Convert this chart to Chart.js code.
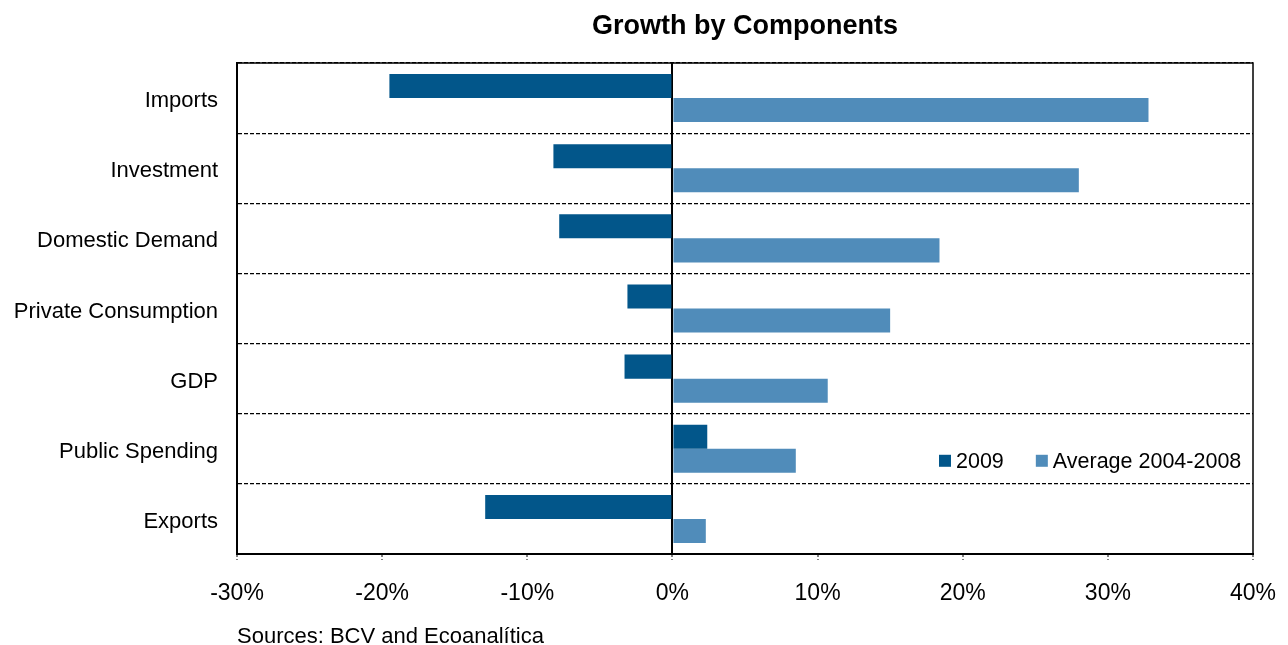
<!DOCTYPE html>
<html>
<head>
<meta charset="utf-8">
<title>Growth by Components</title>
<script src="https://cdn.jsdelivr.net/npm/chart.js@4.4.1/dist/chart.umd.min.js"></script>
<style>
  html, body { margin: 0; padding: 0; background: #fff; overflow: hidden; }
  #wrap { width: 1288px; height: 645px; position: relative; }
</style>
</head>
<body>
<div id="wrap"><canvas id="chart"></canvas></div>
<script>
// components, top to bottom
const components = ['Imports', 'Investment', 'Domestic Demand', 'Private Consumption', 'GDP', 'Public Spending', 'Exports'];
// growth in 2009 (%)
const growth2009 = [-19.5, -8.2, -7.8, -3.1, -3.3, 2.4, -12.9];
// average growth 2004-2008 (%)
const growthAvg = [32.8, 28.0, 18.4, 15.0, 10.7, 8.5, 2.3];
const xTicks = [-30, -20, -10, 0, 10, 20, 30, 40];
const sourceNote = 'Sources: BCV and Ecoanalítica';

const FONT = '"Liberation Sans", Arial, sans-serif';
const DARK = '#02568a';
const LIGHT = '#508cba';

// frame around the plot area (top and right sides are not axes)
const frame = {
    id: 'frame',
    afterDatasetsDraw(chart) {
        const { ctx, chartArea: a } = chart;
        ctx.save();
        ctx.strokeStyle = '#000';
        ctx.lineWidth = 1.5;
        ctx.strokeRect(a.left, a.top, a.right - a.left, a.bottom - a.top);
        ctx.restore();
    }
};

// legend inside the plot next to the Public Spending bars, plus the source line
const notes = {
    id: 'notes',
    afterDraw(chart) {
        const { ctx, chartArea: a } = chart;
        const yMid = chart.scales.y.getPixelForValue(5) + 13;
        let x = a.right - 314;
        ctx.save();
        ctx.font = '21.5px ' + FONT;
        ctx.textBaseline = 'middle';
        chart.data.datasets.forEach(ds => {
            ctx.fillStyle = ds.backgroundColor;
            ctx.fillRect(x, yMid - 7, 12, 12);
            ctx.fillStyle = '#000';
            ctx.fillText(ds.label, x + 17, yMid);
            x += 17 + ctx.measureText(ds.label).width + 32;
        });
        ctx.font = '22px ' + FONT;
        ctx.fillText(sourceNote, a.left, a.bottom + 83);
        ctx.restore();
    }
};

const chart = new Chart(document.getElementById('chart'), {
    type: 'bar',
    data: {
        labels: components,
        datasets: [
            { label: '2009', data: growth2009, backgroundColor: DARK },
            { label: 'Average 2004-2008', data: growthAvg, backgroundColor: LIGHT }
        ]
    },
    options: {
        indexAxis: 'y',
        responsive: true,
        maintainAspectRatio: false,
        animation: false,
        categoryPercentage: 0.685,
        barPercentage: 1.0,
        layout: { padding: { left: 0, right: 35, top: 0, bottom: 0 } },
        plugins: {
            legend: { display: false },
            tooltip: { enabled: false },
            title: {
                display: true,
                text: 'Growth by Components',
                fullSize: false,
                color: '#000',
                font: { family: FONT, size: 27, weight: 'bold' },
                padding: { top: 10, bottom: 20.6 }
            }
        },
        scales: {
            x: {
                min: -30,
                max: 40,
                afterBuildTicks: scale => { scale.ticks = xTicks.map(v => ({ value: v })); },
                afterFit: scale => {
                    scale.height = 91;
                    scale.paddingLeft = 0;
                    scale.paddingRight = 0;
                },
                grid: {
                    color: c => (c.tick && c.tick.value === 0) ? '#000' : 'rgba(0,0,0,0)',
                    lineWidth: 2,
                    tickColor: '#000',
                    tickWidth: 1,
                    tickLength: 6,
                    tickBorderDash: [2, 2]
                },
                border: { display: true, color: '#000', width: 2 },
                ticks: {
                    color: '#000',
                    padding: 20,
                    font: { family: FONT, size: 23 },
                    callback: v => v + '%'
                }
            },
            y: {
                afterFit: scale => { scale.width = 237; },
                grid: {
                    offset: true,
                    color: '#000',
                    lineWidth: 1.2,
                    drawTicks: false
                },
                border: { display: true, color: '#000', width: 2, dash: [4, 2] },
                ticks: {
                    color: '#000',
                    padding: 19,
                    labelOffset: 3,
                    font: { family: FONT, size: 22 }
                }
            }
        }
    },
    plugins: [frame, notes]
});
</script>
</body>
</html>
